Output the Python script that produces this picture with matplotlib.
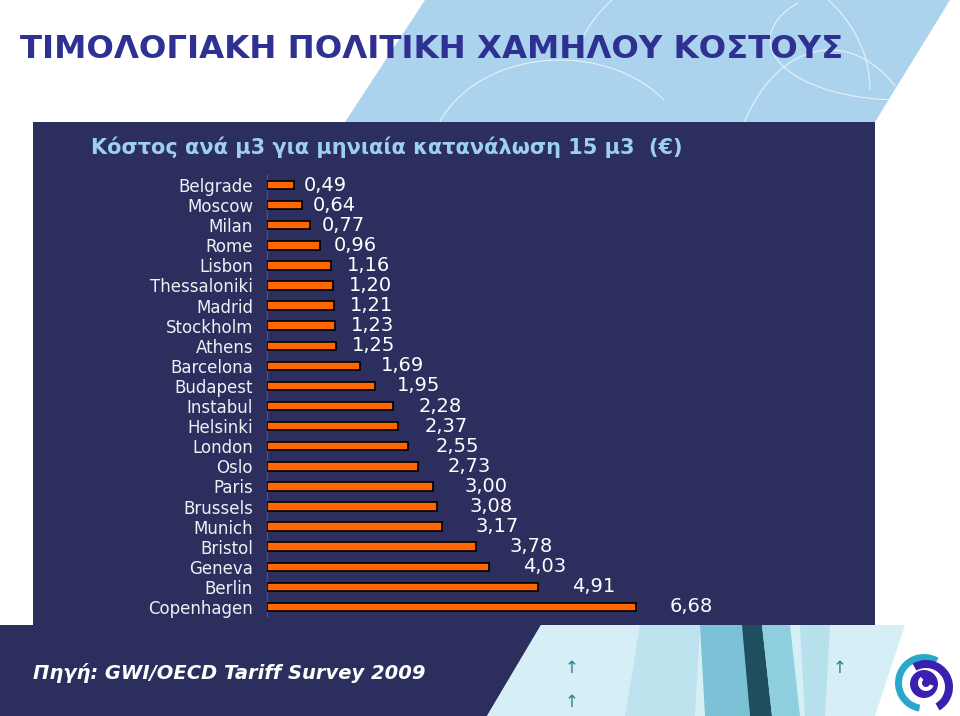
import matplotlib.pyplot as plt
from matplotlib.patches import Polygon, Rectangle, Wedge, Circle, Arc

# data
cities = ['Belgrade', 'Moscow', 'Milan', 'Rome', 'Lisbon', 'Thessaloniki', 'Madrid',
          'Stockholm', 'Athens', 'Barcelona', 'Budapest', 'Instabul', 'Helsinki',
          'London', 'Oslo', 'Paris', 'Brussels', 'Munich', 'Bristol', 'Geneva',
          'Berlin', 'Copenhagen']
costs = [0.49, 0.64, 0.77, 0.96, 1.16, 1.20, 1.21, 1.23, 1.25, 1.69, 1.95, 2.28,
         2.37, 2.55, 2.73, 3.00, 3.08, 3.17, 3.78, 4.03, 4.91, 6.68]

title = 'ΤΙΜΟΛΟΓΙΑΚΗ ΠΟΛΙΤΙΚΗ ΧΑΜΗΛΟΥ ΚΟΣΤΟΥΣ'
subtitle = 'Κόστος ανά μ3 για μηνιαία κατανάλωση 15 μ3  (€)'
source = 'Πηγή: GWI/OECD Tariff Survey 2009'

navy = '#2c2e5e'
orange = '#ff6600'

fig = plt.figure(figsize=(9.6, 7.16), dpi=100)
fig.patch.set_facecolor('white')

# background layer in pixel coordinates
bg = fig.add_axes([0, 0, 1, 1])
bg.set_xlim(0, 960)
bg.set_ylim(716, 0)
bg.axis('off')

# light blue band behind the title, with a few faint white curves
band = Polygon([(425, 0), (950, 0), (875, 122), (345, 122)],
               closed=True, facecolor='#acd3ee', edgecolor='none')
bg.add_patch(band)
for (cx, cy, w, h, t1, t2) in [(560, 160, 260, 200, 180, 330),
                               (720, 90, 300, 260, 200, 360),
                               (830, 200, 200, 300, 190, 300),
                               (900, 40, 260, 120, 90, 200)]:
    arc = Arc((cx, cy), w, h, theta1=t1, theta2=t2, color='white', lw=0.8, alpha=0.7)
    arc.set_clip_path(band)
    bg.add_patch(arc)

# navy panel + bottom strip
bg.add_patch(Rectangle((33, 122), 842, 503, facecolor=navy, edgecolor='none'))
bg.add_patch(Polygon([(0, 625), (541, 625), (487, 716), (0, 716)],
                     closed=True, facecolor=navy, edgecolor='none'))
# water picture, bottom right
bg.add_patch(Polygon([(541, 625), (905, 625), (875, 716), (487, 716)],
                     closed=True, facecolor='#d6eef5', edgecolor='none'))
bg.add_patch(Polygon([(640, 625), (700, 625), (695, 716), (625, 716)],
                     closed=True, facecolor='#bde3ee', edgecolor='none'))
bg.add_patch(Polygon([(700, 625), (745, 625), (750, 716), (705, 716)],
                     closed=True, facecolor='#7cc2d6', edgecolor='none'))
bg.add_patch(Polygon([(742, 625), (762, 625), (772, 716), (750, 716)],
                     closed=True, facecolor='#1f4f5f', edgecolor='none'))
bg.add_patch(Polygon([(762, 625), (790, 625), (800, 716), (772, 716)],
                     closed=True, facecolor='#8fcfe0', edgecolor='none'))
bg.add_patch(Polygon([(800, 625), (830, 625), (825, 716), (805, 716)],
                     closed=True, facecolor='#b5e0ec', edgecolor='none'))
bg.text(572, 668, '↑', color='#2f7f8f', fontsize=12, ha='center', va='center')
bg.text(572, 702, '↑', color='#2f7f8f', fontsize=12, ha='center', va='center')
bg.text(840, 668, '↑', color='#2f7f8f', fontsize=12, ha='center', va='center')

# logo swirl
bg.add_patch(Wedge((924, 683), 29, 100, 300, width=7, facecolor='#2aa8cc', edgecolor='none'))
bg.add_patch(Wedge((926, 687), 27, 240, 60, width=8, facecolor='#3b1fb0', edgecolor='none'))
bg.add_patch(Circle((924, 684), 14, facecolor='#3b1fb0', edgecolor='none'))
bg.add_patch(Wedge((926, 683), 8, 20, 230, width=4, facecolor='white', edgecolor='none'))

# texts
bg.text(20, 50, title, color='#2e3192', fontsize=23.3, fontweight='bold', va='center')
bg.text(387, 147, subtitle, color='#9ccff2', fontsize=15, fontweight='bold',
        ha='center', va='center')
bg.text(33, 673, source, color='white', fontsize=14, fontweight='bold',
        fontstyle='italic', va='center')

# bar chart
ax = fig.add_axes([267 / 960, (716 - 617) / 716, 608 / 960, 442 / 716])
ax.set_facecolor('none')
ypos = range(len(cities))
ax.barh(ypos, costs, height=0.42, left=0, color=orange, edgecolor='black',
        linewidth=1.2, zorder=3)
ax.set_xlim(0, 608 / 55.2)
ax.set_ylim(len(cities) - 0.5, -0.5)
ax.set_yticks(list(ypos))
ax.set_yticklabels(cities, color='#f0f0f4', fontsize=12)
ax.tick_params(axis='y', length=0, pad=10)
ax.set_xticks([])
for side in ['top', 'right', 'bottom']:
    ax.spines[side].set_visible(False)
ax.spines['left'].set_color('#4a4d7e')
ax.spines['left'].set_linewidth(1)

for i, v in enumerate(costs):
    off = min(5 + 9 * v, 34)
    ax.annotate(f'{v:.2f}'.replace('.', ','), xy=(v, i), xytext=(off, 0),
                textcoords='offset pixels', color='white', fontsize=14,
                va='center', ha='left')

fig.savefig('out.png', dpi=100)
